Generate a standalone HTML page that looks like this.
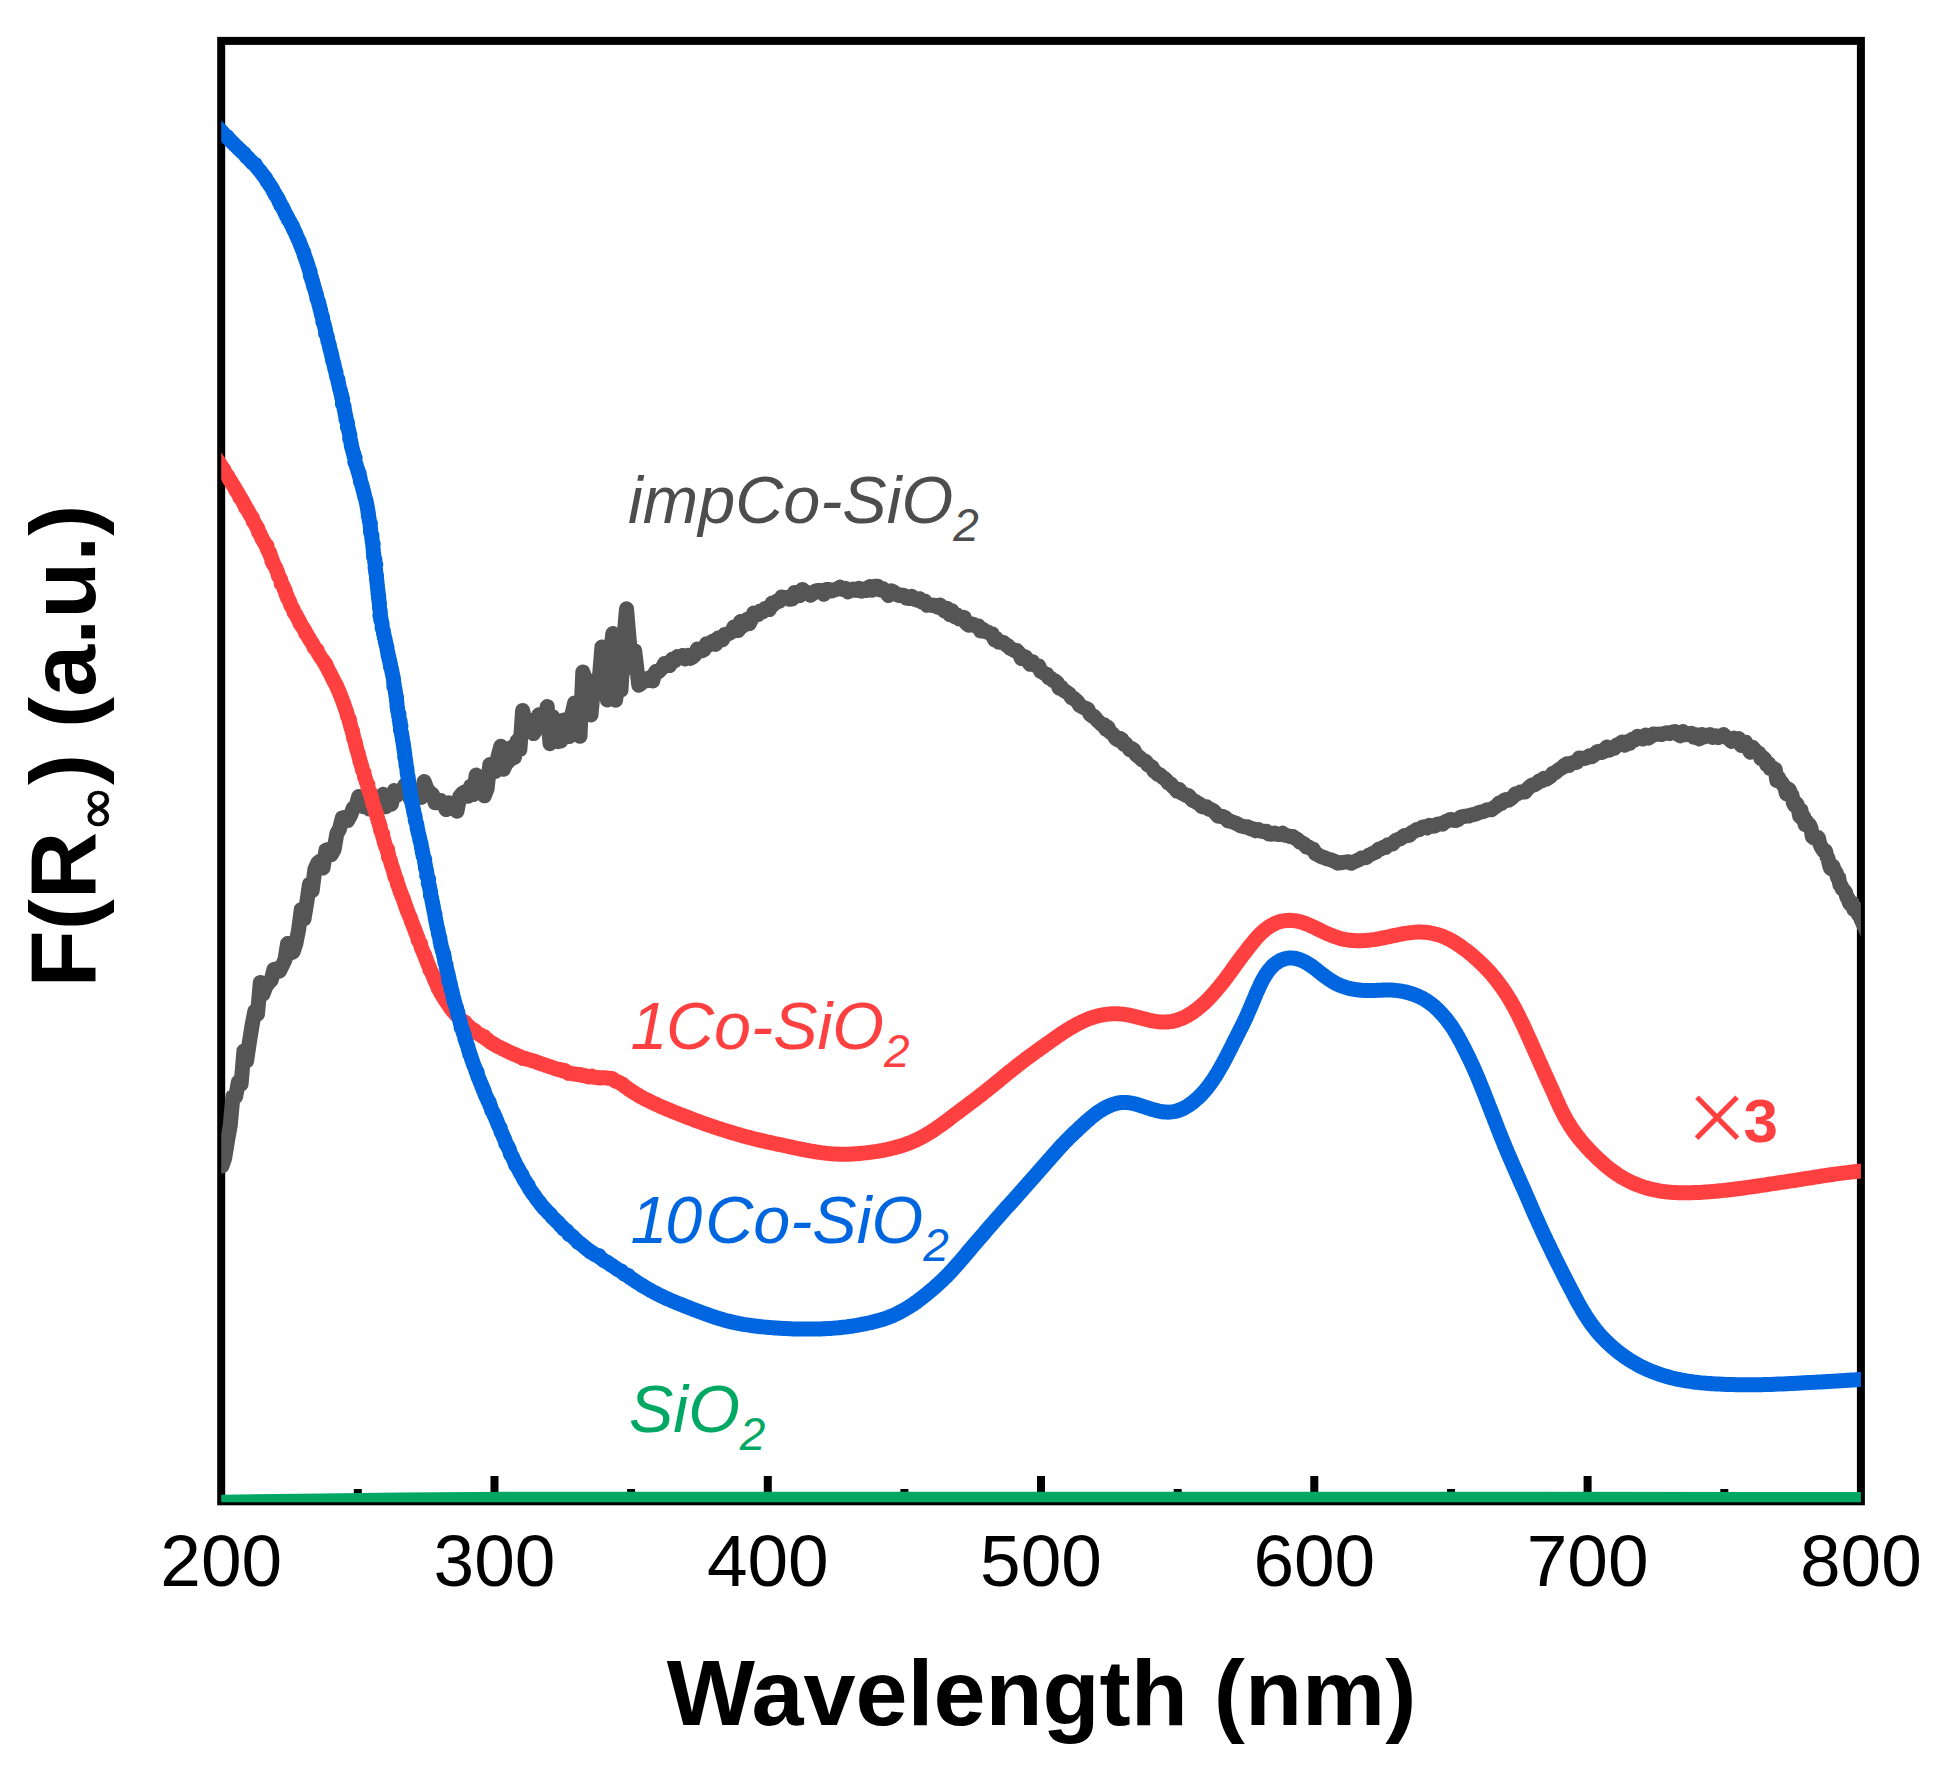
<!DOCTYPE html>
<html lang="en"><head><meta charset="utf-8"><title>F(R∞) vs Wavelength</title>
<style>html,body{margin:0;padding:0;background:#fff}svg{display:block}</style></head>
<body>
<svg width="1935" height="1779" viewBox="0 0 1935 1779">
<defs><clipPath id="c"><rect x="221.2" y="40.9" width="1639.7" height="1461.4"/></clipPath></defs>
<rect width="1935" height="1779" fill="#fff"/>
<rect x="221.2" y="40.9" width="1639.7" height="1460.4" fill="none" stroke="#000" stroke-width="8"/>
<path d="M494.5 1501.3V1476M767.8 1501.3V1476M1041.0 1501.3V1476M1314.3 1501.3V1476M1587.6 1501.3V1476M357.8 1501.3V1489M631.1 1501.3V1489M904.4 1501.3V1489M1177.7 1501.3V1489M1451.0 1501.3V1489M1724.3 1501.3V1489" stroke="#000" stroke-width="8" fill="none"/>
<g clip-path="url(#c)" fill="none" stroke-linejoin="round" stroke-linecap="butt" stroke-width="15">
<path d="M222.0 1166.0L224.7 1158.0L227.5 1140.9L230.2 1125.7L232.9 1096.8L235.7 1096.5L238.4 1081.8L241.1 1084.2L243.9 1051.0L246.6 1060.9L249.3 1042.6L252.1 1025.2L254.8 1011.1L257.5 1014.1L260.3 982.5L263.0 994.2L265.7 986.9L268.5 983.0L271.2 980.1L273.9 969.6L276.7 968.9L279.4 971.2L282.1 965.7L284.9 960.0L287.6 943.5L290.3 953.0L293.1 951.9L295.8 943.9L298.5 930.4L301.3 909.5L304.0 918.9L306.7 903.0L309.5 884.0L312.2 890.5L314.9 869.3L317.7 863.1L320.4 860.9L323.1 867.9L325.9 850.4L328.6 849.4L331.3 854.6L334.1 849.6L336.8 833.8L339.5 829.0L342.3 817.8L345.0 817.4L347.7 820.5L350.5 815.4L353.2 808.1L355.9 806.6L358.7 796.5L361.4 800.7L364.1 806.8L366.8 806.3L369.6 809.1L372.3 805.5L375.0 801.6L377.8 805.4L380.5 797.8L383.2 794.3L386.0 806.8L388.7 803.2L391.4 804.2L394.2 790.5L396.9 795.4L399.6 792.0L402.4 789.9L405.1 784.9L407.8 792.5L410.6 799.4L413.3 796.3L416.0 790.5L418.8 793.6L421.5 797.4L424.2 781.6L427.0 789.2L429.7 792.4L432.4 794.3L435.2 802.8L437.9 802.3L440.6 800.4L443.4 803.8L446.1 809.6L448.8 802.8L451.6 804.9L454.3 808.8L457.0 811.2L459.8 796.5L462.5 793.2L465.2 791.7L468.0 796.3L470.7 785.9L473.4 794.5L476.2 774.9L478.9 779.5L481.6 778.4L484.4 795.8L487.1 788.8L489.8 764.5L492.6 766.2L495.3 771.6L498.0 756.7L500.8 746.2L503.5 769.3L506.2 763.2L509.0 760.8L511.7 747.3L514.4 757.4L517.2 740.8L519.9 749.4L522.6 710.4L525.4 722.4L528.1 730.8L530.8 720.3L533.6 733.6L536.3 728.8L539.0 714.7L541.8 726.4L544.5 721.2L547.2 706.6L550.0 743.7L552.7 716.9L555.4 736.3L558.2 741.6L560.9 740.9L563.6 719.9L566.4 721.0L569.1 736.6L571.8 715.0L574.6 702.9L577.3 714.4L580.0 736.3L582.8 672.0L585.5 679.4L588.2 680.5L591.0 715.0L593.7 684.9L596.4 687.2L599.2 679.5L601.9 647.0L604.6 666.7L607.4 700.0L610.1 657.8L612.8 633.5L615.6 700.3L618.3 681.1L621.0 690.0L623.8 640.0L626.5 608.7L629.2 640.0L632.0 668.1L634.7 650.9L638.8 685.3L641.5 683.1L644.2 680.6L646.7 680.8L648.9 678.0L651.0 679.3L652.8 680.9L654.5 673.7L656.2 671.2L658.1 672.2L660.1 670.1L662.3 667.8L664.6 663.5L667.1 664.7L669.6 665.6L672.2 659.1L674.8 660.8L677.5 656.6L680.1 657.4L682.7 655.5L685.3 659.0L687.8 655.3L690.3 658.4L692.7 656.9L695.1 654.7L697.4 649.0L699.7 650.9L702.0 650.7L704.2 649.6L706.5 643.7L708.8 644.9L711.1 642.1L713.3 641.0L715.6 644.4L717.9 638.1L720.2 638.7L722.5 639.7L724.8 634.4L727.0 634.2L729.3 633.4L731.6 631.8L733.8 627.0L736.0 628.8L738.2 630.6L740.4 621.6L742.6 626.2L744.8 622.7L747.0 619.2L749.2 623.8L751.4 619.6L753.7 613.1L755.9 614.8L758.1 614.5L760.4 611.1L762.7 611.8L765.0 608.5L767.3 608.9L769.6 609.5L772.0 603.0L774.4 603.9L776.8 601.0L779.2 601.3L781.7 597.0L784.2 597.5L786.7 597.5L789.3 599.3L791.9 599.1L794.5 592.4L797.1 593.0L799.7 595.8L802.4 589.4L805.0 592.1L807.7 592.5L810.4 595.3L813.1 593.5L815.7 590.8L818.4 590.4L821.1 590.4L823.8 594.3L826.5 589.6L829.2 589.6L831.9 591.0L834.6 589.7L837.3 589.3L840.0 587.1L842.7 589.4L845.4 588.3L848.1 591.8L850.7 590.6L853.4 589.0L856.2 590.5L858.9 588.3L861.6 591.3L864.3 589.1L867.0 590.5L869.7 586.6L872.4 590.3L875.1 586.2L877.7 586.2L880.4 589.8L883.1 588.9L885.7 591.7L888.4 595.6L891.0 590.7L893.6 591.8L896.3 594.2L898.9 595.5L901.5 594.9L904.1 595.6L906.6 598.2L909.2 598.6L911.8 596.3L914.4 599.0L917.0 600.1L919.5 598.7L922.1 602.2L924.7 600.9L927.2 605.3L929.7 604.7L932.3 605.5L934.8 605.2L937.3 607.1L939.8 604.9L942.2 607.3L944.7 611.3L947.1 608.3L949.6 614.5L952.0 610.8L954.4 616.6L956.9 614.9L959.3 619.1L961.7 619.1L964.1 617.3L966.5 623.6L968.9 625.2L971.3 623.7L973.7 624.6L976.0 626.1L978.4 626.0L980.7 631.0L983.1 629.5L985.4 631.7L987.7 631.9L989.9 633.6L992.2 634.0L994.5 639.8L996.7 638.9L999.0 642.3L1001.2 642.2L1003.4 642.5L1005.7 644.7L1007.9 645.8L1010.1 648.3L1012.4 649.2L1014.6 650.8L1016.8 650.5L1019.1 653.0L1021.3 658.5L1023.5 656.3L1025.7 657.2L1027.9 661.0L1030.1 664.3L1032.3 661.4L1034.4 665.0L1036.6 666.0L1038.7 665.9L1040.8 671.5L1042.8 672.1L1044.9 673.9L1047.0 674.4L1049.0 678.0L1051.1 678.3L1053.1 680.7L1055.1 681.0L1057.2 682.6L1059.2 688.2L1061.3 687.2L1063.3 690.1L1065.4 691.4L1067.4 692.6L1069.5 694.2L1071.5 697.6L1073.6 698.1L1075.6 700.0L1077.7 702.0L1079.7 705.4L1081.8 706.5L1083.8 707.8L1085.8 708.3L1087.8 709.0L1089.8 714.0L1091.9 715.8L1093.9 716.1L1095.9 718.8L1097.9 721.0L1099.9 722.8L1101.9 724.8L1103.9 724.7L1105.9 729.2L1107.9 727.3L1109.9 731.9L1111.9 733.2L1113.9 735.5L1115.9 738.5L1117.9 739.9L1119.9 738.4L1121.9 739.5L1123.9 744.4L1125.9 744.0L1128.0 747.0L1130.0 749.9L1132.0 748.6L1134.0 750.3L1136.0 754.6L1138.0 756.2L1139.9 757.6L1141.9 759.8L1143.9 760.5L1145.9 761.6L1147.9 765.0L1149.9 765.9L1152.0 766.9L1154.0 771.2L1156.0 772.3L1158.0 774.6L1160.1 774.8L1162.1 776.9L1164.2 778.3L1166.3 780.1L1168.4 783.0L1170.5 783.6L1172.7 786.5L1174.8 788.1L1177.0 791.2L1179.2 789.4L1181.5 793.3L1183.7 793.8L1185.9 795.4L1188.2 795.4L1190.5 797.9L1192.7 800.6L1195.0 801.2L1197.3 802.8L1199.6 803.9L1201.8 806.8L1204.1 807.0L1206.5 806.7L1208.8 809.2L1211.1 809.5L1213.5 810.8L1215.8 813.3L1218.2 816.3L1220.6 816.4L1223.0 816.5L1225.5 817.9L1227.9 820.9L1230.4 821.1L1232.9 822.1L1235.3 823.0L1237.9 824.1L1240.4 825.7L1242.9 826.4L1245.5 827.0L1248.0 826.8L1250.6 828.9L1253.2 828.7L1255.8 830.8L1258.4 829.6L1261.0 831.1L1263.7 831.7L1266.4 831.2L1269.1 834.1L1271.8 834.2L1274.5 833.0L1277.2 834.4L1279.9 834.5L1282.6 833.2L1285.3 835.4L1287.9 835.7L1290.4 836.6L1292.9 836.6L1295.3 838.3L1297.6 839.6L1299.9 842.1L1302.2 842.9L1304.4 844.2L1306.6 847.1L1308.8 847.0L1311.0 848.8L1313.2 849.2L1315.4 853.6L1317.7 854.6L1320.0 856.0L1322.4 857.1L1324.8 857.8L1327.3 859.0L1329.8 859.5L1332.4 860.4L1335.0 861.4L1337.6 863.2L1340.3 862.8L1343.0 862.5L1345.7 862.0L1348.4 861.8L1351.1 863.3L1353.8 861.9L1356.4 860.8L1359.0 859.6L1361.5 858.0L1364.0 857.8L1366.4 857.5L1368.9 855.2L1371.3 854.2L1373.7 852.9L1376.1 852.0L1378.5 849.3L1380.8 849.1L1383.2 847.3L1385.5 847.5L1387.9 844.7L1390.3 844.5L1392.6 844.0L1395.0 841.1L1397.3 839.6L1399.7 838.9L1402.1 837.5L1404.5 835.4L1406.9 835.4L1409.3 835.4L1411.8 832.4L1414.2 831.4L1416.7 829.6L1419.2 829.8L1421.7 827.5L1424.3 826.8L1426.9 828.0L1429.5 825.3L1432.1 826.3L1434.7 826.0L1437.3 824.2L1439.9 823.8L1442.5 824.2L1445.1 821.8L1447.8 820.8L1450.4 819.4L1453.0 820.0L1455.6 820.6L1458.2 819.5L1460.8 817.1L1463.4 816.5L1466.0 816.1L1468.6 816.1L1471.3 814.9L1473.9 814.5L1476.4 813.8L1479.0 812.5L1481.6 811.9L1484.2 811.2L1486.7 810.0L1489.2 809.6L1491.7 809.7L1494.2 807.5L1496.6 805.9L1499.0 803.1L1501.4 803.7L1503.8 800.4L1506.1 799.5L1508.5 800.3L1510.8 798.8L1513.2 796.6L1515.5 793.7L1517.9 793.7L1520.2 792.1L1522.6 792.1L1525.0 792.0L1527.3 789.1L1529.7 786.8L1532.1 785.0L1534.4 784.9L1536.8 783.4L1539.1 781.0L1541.5 781.1L1543.8 778.3L1546.1 779.3L1548.4 777.9L1550.6 776.4L1552.9 773.2L1555.2 772.9L1557.5 770.7L1559.8 769.0L1562.2 767.7L1564.5 765.3L1566.9 763.8L1569.3 765.3L1571.7 763.0L1574.2 762.4L1576.7 762.4L1579.2 758.0L1581.7 758.2L1584.3 758.5L1586.8 757.8L1589.4 755.9L1591.9 756.8L1594.4 754.7L1596.9 751.8L1599.4 751.2L1601.9 752.5L1604.4 751.1L1606.9 746.9L1609.4 750.3L1611.9 748.2L1614.4 748.3L1617.0 744.8L1619.5 744.0L1622.0 741.9L1624.6 745.3L1627.2 741.5L1629.7 743.4L1632.3 739.2L1634.9 739.7L1637.5 736.2L1640.2 737.5L1642.8 739.1L1645.4 735.0L1648.1 738.2L1650.8 736.6L1653.4 733.9L1656.1 734.4L1658.8 734.1L1661.5 734.5L1664.2 733.4L1666.9 732.7L1669.6 733.5L1672.3 732.1L1675.0 731.6L1677.7 734.0L1680.4 735.9L1683.0 731.6L1685.7 734.7L1688.4 733.7L1691.1 733.3L1693.8 737.2L1696.5 734.7L1699.2 739.0L1701.9 734.4L1704.6 736.9L1707.4 735.6L1710.1 734.5L1712.8 737.4L1715.5 735.8L1718.2 737.7L1720.9 736.5L1723.5 734.5L1726.1 737.3L1728.7 738.4L1731.3 741.4L1733.8 738.1L1736.2 741.3L1738.7 738.5L1741.1 745.4L1743.4 742.6L1745.7 742.2L1748.0 747.9L1750.3 752.2L1752.5 747.3L1754.7 749.9L1756.9 752.4L1759.0 753.1L1761.0 758.6L1763.0 757.5L1764.9 759.6L1766.7 764.8L1768.5 763.5L1770.2 768.6L1771.9 767.2L1773.6 768.7L1775.2 769.4L1776.8 780.6L1778.5 777.5L1780.1 781.0L1781.7 782.5L1783.3 785.2L1784.8 787.1L1786.4 793.8L1787.8 788.8L1789.3 789.8L1790.6 793.5L1792.0 795.0L1793.3 802.7L1794.6 805.3L1795.9 803.0L1797.1 804.3L1798.4 809.4L1799.7 816.3L1801.0 810.3L1802.4 818.7L1803.7 816.9L1805.1 824.7L1806.6 821.5L1808.0 825.8L1809.5 824.9L1811.0 828.5L1812.4 837.0L1813.9 837.8L1815.4 836.8L1816.9 837.8L1818.3 837.6L1819.8 843.7L1821.2 846.9L1822.6 849.1L1824.0 851.3L1825.4 850.9L1826.7 856.1L1828.0 858.5L1829.3 864.5L1830.5 868.3L1831.8 865.4L1833.0 866.2L1834.1 870.5L1835.3 871.4L1836.5 873.5L1837.6 877.8L1838.7 877.6L1839.8 884.6L1840.9 885.1L1842.1 888.6L1843.2 889.8L1844.4 890.8L1845.6 892.6L1846.8 896.9L1848.1 898.5L1849.4 903.0L1850.8 904.6L1852.2 903.1L1853.7 909.3L1855.3 907.6L1856.9 911.8L1858.5 914.9L1860.1 912.8L1861.0 919.0L1873.0 945.0" stroke="#555555" stroke-linecap="round"/>
<path d="M209.2 447.8L221.2 466.0L222.3 467.7L223.8 469.4L224.4 471.1L225.0 472.5L226.5 474.5L227.6 475.8L228.6 477.9L229.6 479.6L230.7 481.3L232.0 483.3L232.8 484.7L234.0 486.6L234.9 488.1L235.7 490.0L236.9 491.5L238.0 493.4L239.0 495.0L239.8 497.6L241.0 498.5L242.1 500.3L243.0 501.9L243.9 504.0L245.0 505.4L245.7 507.8L246.9 508.9L247.9 510.7L248.8 512.4L249.9 514.2L250.8 515.9L252.5 518.0L252.7 519.4L253.4 521.8L254.5 523.0L255.6 524.8L256.4 526.5L257.8 528.4L258.2 530.1L258.4 531.9L260.0 533.6L260.3 535.0L261.7 537.2L262.2 539.4L263.5 540.8L264.3 542.5L265.2 544.4L266.9 545.6L266.9 548.1L267.9 549.8L268.6 551.7L269.8 552.9L270.2 555.3L271.0 556.8L271.8 559.0L271.8 560.9L273.4 562.7L273.4 564.2L275.0 566.4L276.1 568.6L276.5 570.1L277.3 571.4L278.0 573.8L278.3 575.7L279.5 577.5L280.6 579.6L281.0 581.2L281.2 583.6L282.5 584.9L283.6 587.1L284.0 588.6L285.3 590.6L285.5 592.3L286.0 594.2L287.1 596.0L287.4 597.8L288.6 599.7L289.7 601.9L290.2 603.4L290.6 605.0L291.8 607.0L293.0 609.0L293.6 610.6L294.1 612.3L295.4 614.1L296.6 616.0L297.3 617.6L298.3 619.3L299.3 621.1L300.1 623.6L301.2 624.6L301.9 626.1L303.3 628.1L304.4 629.9L305.3 631.6L305.6 633.4L307.3 635.0L308.2 637.0L309.3 638.5L310.2 640.4L311.3 641.9L312.6 643.8L313.4 645.4L314.0 647.4L315.5 648.8L317.1 650.0L317.6 652.2L318.6 653.9L319.7 655.6L320.4 656.9L321.9 659.0L323.4 660.8L324.0 662.4L325.6 663.7L326.0 665.8L327.0 667.2L328.0 669.3L328.7 671.0L329.9 672.8L330.9 675.1L331.7 676.3L332.4 678.3L333.5 679.9L334.2 681.8L335.2 683.5L336.6 685.9L336.9 687.2L337.8 688.7L338.5 690.8L339.3 692.0L340.1 694.5L340.9 696.2L341.6 698.2L342.3 700.0L343.0 702.0L344.0 704.3L344.3 705.7L345.3 708.4L345.7 709.5L346.2 710.9L346.9 713.3L347.5 716.1L348.1 717.1L349.5 719.6L349.2 721.0L350.0 723.2L350.4 724.8L350.8 726.9L351.4 728.7L352.7 731.4L352.5 732.5L353.0 734.5L353.5 736.4L353.6 738.2L354.5 740.2L355.3 742.2L355.6 744.1L355.8 745.6L356.6 748.0L356.9 750.1L357.6 751.9L358.3 753.7L358.7 755.7L359.2 757.8L359.8 759.6L360.0 761.6L360.9 763.4L361.2 765.0L362.0 767.3L362.3 769.6L363.1 771.1L364.1 772.7L364.3 774.9L364.6 777.2L365.4 778.8L365.8 780.1L366.6 782.6L367.9 784.6L367.7 786.4L368.1 788.0L368.9 790.2L370.0 792.2L370.1 794.1L371.1 795.8L371.2 797.9L371.8 799.0L372.4 801.7L372.5 803.3L373.5 805.6L374.3 807.5L374.7 809.4L375.5 811.5L375.8 813.2L376.8 814.6L377.0 817.0L377.6 818.2L378.1 820.9L379.1 822.5L379.3 824.7L380.3 826.6L380.4 828.5L380.6 830.2L381.6 832.4L382.7 834.0L382.7 836.2L383.4 838.4L383.9 840.0L384.3 842.3L385.0 843.9L385.5 846.0L386.2 847.7L387.5 849.3L387.4 851.5L388.3 853.5L388.6 855.3L388.5 857.2L389.8 859.2L390.4 860.6L390.9 863.0L391.5 865.2L392.2 866.8L392.7 868.7L393.4 870.6L393.8 872.3L394.6 874.4L394.7 876.8L395.9 878.2L396.8 880.4L397.1 882.0L397.5 884.2L398.4 885.8L399.0 888.1L399.7 889.6L400.2 891.7L401.1 893.3L401.5 894.8L402.4 897.1L403.4 898.8L403.8 900.8L404.6 903.1L405.2 904.6L405.6 906.2L406.6 908.3L407.0 910.2L408.0 912.1L408.6 914.1L409.4 915.8L410.5 918.2L410.9 919.5L411.6 921.9L412.3 923.3L413.1 925.5L413.7 927.0L414.4 928.8L415.2 930.8L415.8 933.0L416.6 934.5L417.4 936.6L418.0 938.2L418.1 940.1L419.4 942.0L420.7 944.3L420.8 945.7L421.3 947.8L422.2 949.5L422.8 951.1L423.7 953.2L424.9 955.5L425.1 956.9L426.0 958.7L426.6 960.6L427.4 962.7L428.1 964.3L428.7 965.7L429.7 968.0L429.9 969.9L431.2 971.7L432.0 973.3L432.8 975.5L434.0 977.0L434.3 979.2L434.8 980.3L436.0 982.8L437.3 985.4L437.7 986.5L438.1 988.2L439.4 990.1L440.1 991.9L441.3 993.6L442.5 995.7L443.3 997.0L444.3 998.7L445.4 1000.4L446.7 1002.2L447.6 1003.7L448.5 1004.8L449.9 1006.9L450.8 1008.5L452.4 1010.0L453.0 1011.3L455.0 1013.0L455.9 1014.6L457.6 1015.9L458.6 1017.4L460.4 1018.8L461.3 1019.7L463.3 1021.5L464.9 1022.2L466.2 1024.2L467.5 1025.2L469.3 1026.8L470.2 1028.3L472.5 1029.3L474.9 1030.7L475.7 1031.7L477.0 1033.1L478.9 1034.1L480.1 1034.6L482.2 1036.5L484.3 1036.7L485.5 1038.7L487.5 1039.6L488.8 1040.9L490.1 1041.9L492.2 1043.1L493.4 1043.9L495.6 1045.1L497.0 1046.2L499.1 1047.1L501.2 1047.9L502.6 1048.9L504.3 1049.4L506.2 1050.7L507.7 1051.2L509.8 1052.4L511.6 1053.2L513.5 1054.0L515.8 1054.7L517.2 1055.5L518.6 1056.2L521.0 1056.9L522.7 1058.4L524.7 1058.2L526.1 1058.8L528.5 1059.6L531.2 1060.2L532.3 1060.8L534.8 1061.1L536.1 1062.1L538.3 1062.6L539.9 1063.3L541.8 1064.1L543.7 1064.6L545.8 1065.4L547.5 1065.8L548.7 1066.4L551.3 1067.1L553.3 1067.9L555.1 1068.4L556.6 1069.1L558.9 1069.7L560.4 1069.6L562.8 1070.9L564.4 1070.3L566.6 1072.0L568.4 1073.4L570.5 1073.1L572.6 1073.8L574.4 1073.9L576.6 1074.3L578.3 1074.7L580.3 1074.4L582.2 1075.4L583.8 1075.3L586.1 1076.1L588.3 1076.9L590.0 1076.8L591.9 1076.1L593.9 1077.3L596.3 1077.4L597.9 1077.7L599.6 1078.1L601.9 1077.8L602.9 1077.8L605.8 1077.8L607.6 1078.2L609.7 1078.2L612.3 1078.7L613.4 1079.4L615.4 1081.2L617.0 1081.4L618.7 1082.1L620.6 1083.5L622.6 1084.1L624.0 1085.7L625.8 1086.9L627.3 1088.0L629.1 1089.6L630.5 1090.3L632.0 1091.4L633.9 1092.5L635.6 1093.6L637.3 1094.6L639.0 1095.7L640.7 1096.7L642.5 1097.6L644.2 1098.6L646.0 1099.5L647.8 1100.4L649.6 1101.2L651.4 1102.1L653.2 1103.0L655.0 1103.8L656.8 1104.7L658.6 1105.5L660.4 1106.3L662.3 1107.1L664.1 1107.9L665.9 1108.7L667.8 1109.5L669.6 1110.2L671.5 1111.0L673.3 1111.8L675.2 1112.5L677.1 1113.2L678.9 1114.0L680.8 1114.7L682.7 1115.4L684.5 1116.2L686.4 1116.9L688.3 1117.6L690.1 1118.3L692.0 1119.0L693.9 1119.7L695.7 1120.4L697.6 1121.1L699.5 1121.8L701.4 1122.5L703.3 1123.2L705.1 1123.9L707.0 1124.5L708.9 1125.2L710.8 1125.8L712.7 1126.5L714.6 1127.1L716.5 1127.8L718.4 1128.4L720.3 1129.0L722.2 1129.6L724.1 1130.2L726.0 1130.8L727.9 1131.4L729.8 1132.0L731.7 1132.6L733.7 1133.1L735.6 1133.7L737.5 1134.3L739.4 1134.8L741.4 1135.4L743.3 1135.9L745.2 1136.4L747.1 1136.9L749.1 1137.4L751.0 1138.0L752.9 1138.5L754.9 1138.9L756.8 1139.4L758.8 1139.9L760.7 1140.4L762.7 1140.8L764.6 1141.3L766.5 1141.8L768.5 1142.2L770.5 1142.6L772.4 1143.1L774.4 1143.5L776.3 1143.9L778.3 1144.3L780.2 1144.7L782.2 1145.1L784.2 1145.5L786.1 1146.0L788.1 1146.4L790.0 1146.8L792.0 1147.2L793.9 1147.7L795.9 1148.1L797.9 1148.5L799.8 1148.9L801.8 1149.3L803.7 1149.7L805.7 1150.1L807.7 1150.4L809.6 1150.8L811.6 1151.1L813.6 1151.5L815.5 1151.8L817.5 1152.1L819.5 1152.4L821.5 1152.7L823.4 1152.9L825.4 1153.2L827.4 1153.4L829.4 1153.6L831.4 1153.8L833.4 1153.9L835.3 1154.0L837.3 1154.1L839.3 1154.2L841.3 1154.3L843.3 1154.3L845.3 1154.3L847.3 1154.2L849.3 1154.2L851.3 1154.1L853.3 1154.0L855.3 1153.8L857.3 1153.7L859.3 1153.5L861.3 1153.3L863.3 1153.1L865.3 1152.9L867.3 1152.7L869.3 1152.4L871.3 1152.2L873.2 1151.9L875.2 1151.6L877.2 1151.3L879.2 1151.0L881.2 1150.6L883.1 1150.3L885.1 1149.9L887.1 1149.5L889.0 1149.0L891.0 1148.6L892.9 1148.1L894.9 1147.6L896.8 1147.1L898.7 1146.6L900.7 1146.0L902.6 1145.4L904.4 1144.8L906.3 1144.1L908.2 1143.4L910.0 1142.7L911.9 1142.0L913.7 1141.2L915.5 1140.3L917.3 1139.5L919.1 1138.6L920.9 1137.7L922.6 1136.8L924.4 1135.8L926.1 1134.8L927.8 1133.8L929.5 1132.7L931.2 1131.7L932.9 1130.6L934.6 1129.5L936.2 1128.4L937.9 1127.2L939.5 1126.1L941.2 1124.9L942.8 1123.7L944.4 1122.6L946.0 1121.4L947.6 1120.2L949.2 1119.0L950.8 1117.8L952.4 1116.5L954.0 1115.3L955.6 1114.1L957.2 1112.9L958.8 1111.7L960.4 1110.5L962.0 1109.3L963.6 1108.1L965.2 1106.9L966.8 1105.7L968.4 1104.5L970.0 1103.3L971.6 1102.1L973.2 1100.9L974.8 1099.7L976.4 1098.5L978.0 1097.2L979.6 1096.0L981.2 1094.8L982.7 1093.6L984.3 1092.3L985.9 1091.1L987.4 1089.8L989.0 1088.6L990.6 1087.3L992.1 1086.1L993.7 1084.8L995.2 1083.5L996.8 1082.3L998.3 1081.0L999.9 1079.7L1001.4 1078.5L1002.9 1077.2L1004.5 1075.9L1006.0 1074.7L1007.6 1073.4L1009.1 1072.2L1010.7 1070.9L1012.3 1069.7L1013.8 1068.4L1015.4 1067.2L1017.0 1065.9L1018.5 1064.7L1020.1 1063.5L1021.7 1062.3L1023.3 1061.0L1024.9 1059.8L1026.5 1058.6L1028.1 1057.4L1029.7 1056.2L1031.3 1055.1L1032.9 1053.9L1034.5 1052.7L1036.1 1051.5L1037.8 1050.4L1039.4 1049.2L1041.0 1048.0L1042.7 1046.9L1044.3 1045.7L1045.9 1044.5L1047.6 1043.4L1049.2 1042.2L1050.8 1041.1L1052.5 1039.9L1054.1 1038.7L1055.8 1037.6L1057.4 1036.4L1059.1 1035.3L1060.7 1034.2L1062.4 1033.0L1064.1 1031.9L1065.8 1030.9L1067.5 1029.8L1069.2 1028.7L1070.9 1027.7L1072.6 1026.7L1074.4 1025.7L1076.1 1024.7L1077.9 1023.8L1079.7 1022.9L1081.5 1022.0L1083.3 1021.1L1085.2 1020.3L1087.0 1019.5L1088.9 1018.8L1090.7 1018.1L1092.6 1017.5L1094.5 1016.9L1096.4 1016.3L1098.4 1015.8L1100.3 1015.4L1102.2 1015.0L1104.2 1014.7L1106.1 1014.4L1108.1 1014.1L1110.1 1013.9L1112.1 1013.8L1114.0 1013.7L1116.0 1013.7L1118.0 1013.8L1120.0 1013.9L1122.0 1014.1L1124.0 1014.3L1126.0 1014.6L1127.9 1014.9L1129.9 1015.3L1131.9 1015.8L1133.9 1016.2L1135.8 1016.7L1137.8 1017.2L1139.8 1017.8L1141.7 1018.3L1143.7 1018.8L1145.7 1019.3L1147.6 1019.8L1149.6 1020.3L1151.5 1020.7L1153.5 1021.1L1155.5 1021.4L1157.4 1021.7L1159.4 1021.9L1161.3 1022.0L1163.2 1022.1L1165.2 1022.1L1167.1 1022.0L1168.9 1021.8L1170.8 1021.6L1172.7 1021.3L1174.5 1020.8L1176.4 1020.4L1178.2 1019.8L1180.0 1019.1L1181.9 1018.4L1183.6 1017.6L1185.4 1016.7L1187.2 1015.8L1188.9 1014.8L1190.7 1013.7L1192.4 1012.6L1194.0 1011.4L1195.7 1010.2L1197.3 1009.0L1198.9 1007.7L1200.4 1006.4L1202.0 1005.1L1203.5 1003.7L1204.9 1002.4L1206.4 1001.0L1207.8 999.6L1209.2 998.1L1210.6 996.7L1212.0 995.2L1213.3 993.7L1214.6 992.3L1215.9 990.8L1217.2 989.2L1218.5 987.7L1219.8 986.2L1221.0 984.6L1222.3 983.0L1223.5 981.5L1224.7 979.9L1225.9 978.3L1227.1 976.7L1228.3 975.1L1229.5 973.5L1230.7 971.8L1231.8 970.2L1233.0 968.6L1234.2 966.9L1235.3 965.3L1236.5 963.7L1237.7 962.1L1238.9 960.4L1240.1 958.8L1241.3 957.2L1242.5 955.6L1243.7 954.0L1245.0 952.4L1246.2 950.8L1247.4 949.2L1248.7 947.6L1249.9 946.0L1251.2 944.4L1252.5 942.8L1253.8 941.3L1255.1 939.7L1256.4 938.2L1257.8 936.7L1259.2 935.2L1260.6 933.7L1262.1 932.3L1263.6 931.0L1265.1 929.7L1266.7 928.5L1268.3 927.4L1269.9 926.3L1271.6 925.3L1273.3 924.4L1275.0 923.5L1276.8 922.8L1278.6 922.1L1280.4 921.6L1282.2 921.1L1284.1 920.8L1286.0 920.5L1287.8 920.4L1289.7 920.3L1291.6 920.4L1293.6 920.6L1295.5 920.8L1297.4 921.2L1299.3 921.6L1301.2 922.1L1303.1 922.7L1305.0 923.4L1306.9 924.1L1308.8 924.9L1310.6 925.7L1312.5 926.6L1314.4 927.4L1316.2 928.3L1318.0 929.2L1319.9 930.1L1321.7 931.0L1323.5 931.9L1325.4 932.8L1327.2 933.6L1329.1 934.4L1330.9 935.2L1332.8 935.9L1334.6 936.6L1336.5 937.2L1338.4 937.8L1340.3 938.4L1342.2 938.9L1344.1 939.3L1346.0 939.7L1348.0 940.0L1349.9 940.3L1351.9 940.5L1353.9 940.6L1355.8 940.7L1357.8 940.8L1359.8 940.7L1361.8 940.7L1363.8 940.6L1365.8 940.5L1367.8 940.3L1369.8 940.1L1371.7 939.8L1373.7 939.6L1375.7 939.3L1377.7 938.9L1379.7 938.6L1381.7 938.2L1383.6 937.8L1385.6 937.4L1387.6 937.0L1389.6 936.6L1391.5 936.1L1393.5 935.7L1395.5 935.3L1397.5 934.9L1399.5 934.5L1401.4 934.1L1403.4 933.7L1405.4 933.4L1407.4 933.1L1409.4 932.8L1411.4 932.6L1413.4 932.4L1415.4 932.2L1417.4 932.1L1419.3 932.1L1421.3 932.1L1423.3 932.2L1425.2 932.3L1427.2 932.5L1429.1 932.7L1431.1 933.1L1433.0 933.4L1434.9 933.9L1436.8 934.4L1438.7 934.9L1440.5 935.5L1442.4 936.2L1444.2 937.0L1446.0 937.8L1447.8 938.6L1449.6 939.5L1451.4 940.5L1453.1 941.5L1454.9 942.5L1456.6 943.6L1458.3 944.7L1459.9 945.8L1461.6 947.0L1463.2 948.2L1464.8 949.4L1466.4 950.6L1468.0 951.8L1469.6 953.1L1471.2 954.4L1472.7 955.7L1474.2 957.0L1475.7 958.3L1477.2 959.7L1478.7 961.0L1480.2 962.4L1481.6 963.8L1483.1 965.2L1484.5 966.6L1485.9 968.0L1487.2 969.5L1488.6 970.9L1489.9 972.4L1491.3 973.9L1492.6 975.4L1493.9 977.0L1495.1 978.5L1496.4 980.1L1497.6 981.7L1498.8 983.3L1500.0 984.9L1501.2 986.5L1502.3 988.1L1503.5 989.8L1504.6 991.4L1505.7 993.1L1506.8 994.8L1507.9 996.5L1508.9 998.2L1510.0 999.9L1511.0 1001.6L1512.0 1003.3L1512.9 1005.1L1513.9 1006.8L1514.9 1008.6L1515.8 1010.3L1516.7 1012.1L1517.7 1013.9L1518.6 1015.7L1519.4 1017.5L1520.3 1019.3L1521.2 1021.1L1522.1 1022.9L1522.9 1024.7L1523.8 1026.5L1524.6 1028.3L1525.4 1030.1L1526.3 1032.0L1527.1 1033.8L1527.9 1035.6L1528.7 1037.4L1529.6 1039.3L1530.4 1041.1L1531.2 1042.9L1532.0 1044.7L1532.8 1046.6L1533.6 1048.4L1534.4 1050.2L1535.2 1052.1L1536.1 1053.9L1536.9 1055.7L1537.7 1057.5L1538.5 1059.4L1539.3 1061.2L1540.1 1063.0L1540.9 1064.8L1541.8 1066.7L1542.6 1068.5L1543.4 1070.3L1544.2 1072.1L1545.0 1074.0L1545.9 1075.8L1546.7 1077.6L1547.5 1079.4L1548.3 1081.3L1549.2 1083.1L1550.0 1084.9L1550.8 1086.7L1551.6 1088.5L1552.5 1090.4L1553.3 1092.2L1554.1 1094.0L1554.9 1095.9L1555.7 1097.7L1556.5 1099.6L1557.3 1101.4L1558.2 1103.2L1559.0 1105.1L1559.8 1106.9L1560.7 1108.7L1561.6 1110.5L1562.5 1112.3L1563.4 1114.1L1564.3 1115.8L1565.3 1117.6L1566.2 1119.3L1567.2 1121.0L1568.3 1122.7L1569.3 1124.4L1570.3 1126.1L1571.4 1127.8L1572.5 1129.4L1573.7 1131.1L1574.8 1132.7L1576.0 1134.3L1577.2 1135.9L1578.4 1137.5L1579.6 1139.0L1580.9 1140.6L1582.2 1142.1L1583.5 1143.6L1584.8 1145.1L1586.1 1146.6L1587.5 1148.1L1588.9 1149.5L1590.2 1151.0L1591.6 1152.4L1593.0 1153.8L1594.5 1155.3L1595.9 1156.7L1597.4 1158.1L1598.8 1159.4L1600.3 1160.8L1601.8 1162.2L1603.3 1163.5L1604.8 1164.8L1606.3 1166.1L1607.8 1167.4L1609.4 1168.6L1610.9 1169.8L1612.5 1171.0L1614.2 1172.2L1615.8 1173.3L1617.5 1174.5L1619.1 1175.5L1620.8 1176.6L1622.6 1177.6L1624.3 1178.6L1626.0 1179.6L1627.8 1180.5L1629.6 1181.4L1631.4 1182.3L1633.2 1183.1L1635.0 1183.9L1636.9 1184.6L1638.8 1185.4L1640.6 1186.0L1642.5 1186.7L1644.4 1187.3L1646.3 1187.9L1648.3 1188.4L1650.2 1188.9L1652.1 1189.4L1654.1 1189.8L1656.0 1190.2L1658.0 1190.6L1660.0 1191.0L1661.9 1191.3L1663.9 1191.6L1665.9 1191.8L1667.9 1192.0L1669.9 1192.2L1671.9 1192.4L1673.9 1192.5L1675.9 1192.6L1677.9 1192.7L1679.9 1192.7L1681.9 1192.8L1683.9 1192.8L1685.9 1192.8L1687.9 1192.8L1689.9 1192.7L1691.9 1192.7L1693.9 1192.6L1695.9 1192.5L1697.9 1192.5L1699.9 1192.4L1701.9 1192.3L1703.9 1192.1L1705.9 1192.0L1707.9 1191.9L1709.9 1191.7L1711.9 1191.6L1713.9 1191.4L1715.9 1191.2L1717.9 1191.0L1719.9 1190.8L1721.8 1190.6L1723.8 1190.4L1725.8 1190.2L1727.8 1190.0L1729.8 1189.8L1731.8 1189.5L1733.8 1189.3L1735.7 1189.0L1737.7 1188.8L1739.7 1188.5L1741.7 1188.2L1743.7 1188.0L1745.7 1187.7L1747.6 1187.4L1749.6 1187.1L1751.6 1186.8L1753.6 1186.5L1755.6 1186.2L1757.5 1186.0L1759.5 1185.7L1761.5 1185.4L1763.5 1185.1L1765.5 1184.8L1767.4 1184.5L1769.4 1184.2L1771.4 1183.9L1773.4 1183.6L1775.3 1183.3L1777.3 1183.0L1779.3 1182.7L1781.3 1182.4L1783.3 1182.1L1785.2 1181.8L1787.2 1181.5L1789.2 1181.2L1791.2 1180.9L1793.1 1180.6L1795.1 1180.3L1797.1 1180.0L1799.1 1179.7L1801.0 1179.3L1803.0 1179.0L1805.0 1178.7L1807.0 1178.4L1808.9 1178.1L1810.9 1177.8L1812.9 1177.5L1814.9 1177.2L1816.9 1176.9L1818.8 1176.6L1820.8 1176.2L1822.8 1175.9L1824.8 1175.6L1826.7 1175.3L1828.7 1175.0L1830.7 1174.8L1832.7 1174.5L1834.7 1174.2L1836.6 1173.9L1838.6 1173.6L1840.6 1173.4L1842.6 1173.1L1844.5 1172.9L1846.5 1172.6L1848.5 1172.4L1850.5 1172.1L1852.5 1171.9L1854.4 1171.7L1856.4 1171.5L1858.4 1171.3L1860.4 1171.1L1861.4 1171.0L1873.4 1169.8" stroke="#ff4040"/>
<path d="M209.4 119.3L221.4 131.3L222.8 132.7L224.6 135.2L225.5 135.6L227.3 136.7L228.3 138.4L229.5 139.5L231.1 141.2L232.5 142.6L234.0 144.0L235.3 145.4L236.9 146.8L238.5 148.5L239.7 149.6L241.2 151.1L242.6 152.4L244.3 153.6L245.5 155.3L246.2 156.7L248.3 158.1L250.2 160.5L251.1 161.0L252.4 162.9L253.8 163.9L255.4 164.4L256.5 166.9L257.7 168.4L259.0 169.9L260.2 171.2L261.5 173.0L262.9 174.8L263.9 176.2L265.4 177.8L266.2 179.5L267.3 181.8L268.5 182.8L269.5 184.7L270.6 186.1L271.9 188.1L272.7 189.5L273.4 191.3L274.7 193.0L275.2 194.7L276.7 196.5L277.8 198.3L278.6 200.0L279.3 202.2L280.5 203.5L280.8 205.5L282.4 207.1L283.0 208.8L284.2 210.7L285.0 212.9L286.0 214.2L286.5 216.1L287.9 217.8L288.3 219.6L289.7 221.4L290.6 222.9L291.5 225.0L292.7 226.6L293.2 228.6L294.0 230.2L295.0 232.2L295.5 233.0L296.6 235.8L297.6 238.0L298.3 239.5L299.3 241.5L299.8 243.1L300.5 244.9L301.3 246.8L302.2 249.0L302.7 250.5L303.8 252.6L304.1 254.3L304.7 256.3L305.4 258.0L305.8 259.1L306.7 261.8L307.4 263.6L307.9 265.6L308.6 267.7L309.1 269.4L310.1 271.9L310.2 273.3L310.4 275.8L311.4 277.1L311.7 279.5L312.5 281.0L312.7 282.5L313.5 284.8L313.5 286.0L314.6 288.7L315.2 290.8L315.7 292.6L316.4 294.5L316.7 296.4L317.0 298.7L317.7 300.3L318.7 302.2L318.8 304.2L319.6 306.2L319.8 308.1L320.5 309.5L320.8 311.9L321.4 314.0L321.8 315.8L322.6 317.6L322.8 319.7L322.8 321.7L323.8 323.6L324.5 325.7L324.7 327.4L325.4 329.3L325.7 331.3L325.6 333.4L326.7 335.2L327.3 337.1L327.6 339.1L328.0 341.3L328.6 343.0L329.3 345.1L329.5 346.9L329.9 348.6L330.5 350.7L331.0 352.5L331.5 354.6L332.1 357.2L332.4 358.5L332.6 360.4L333.4 362.4L334.1 364.7L334.3 366.3L334.8 368.4L335.3 370.2L335.9 371.9L336.2 374.1L336.5 375.7L337.1 377.9L338.0 379.9L338.1 381.8L338.7 383.9L339.0 385.7L339.4 387.9L339.9 389.6L340.6 391.1L340.8 393.5L341.7 395.3L341.7 397.4L342.7 399.3L342.5 401.3L342.4 403.8L343.4 405.2L344.1 406.4L344.2 409.2L344.8 411.3L345.0 413.1L345.4 414.8L345.9 417.0L345.9 419.1L346.7 420.9L347.5 422.7L347.5 424.8L347.4 426.9L348.3 428.7L348.9 431.2L349.1 432.7L349.9 434.8L349.8 436.6L349.7 438.7L350.6 440.5L350.9 442.6L351.4 444.4L351.3 446.1L352.2 448.4L352.7 450.5L353.1 452.3L354.0 454.1L354.0 456.2L355.1 457.8L354.9 460.0L354.8 462.0L355.9 463.9L356.3 465.7L357.0 467.8L357.8 469.9L358.1 471.6L359.2 473.5L359.2 475.4L359.9 477.2L360.3 479.3L360.5 481.7L361.3 483.2L361.9 485.4L362.4 487.0L362.9 489.4L363.4 490.9L363.9 493.1L364.4 494.8L364.7 496.7L365.4 498.7L366.0 500.5L366.3 502.5L366.8 504.4L367.1 506.5L367.5 508.7L367.8 510.4L368.1 512.4L368.5 514.3L368.3 515.8L369.1 518.3L369.2 520.2L369.7 522.2L370.4 523.7L370.2 526.2L370.4 528.2L370.7 530.2L370.5 531.7L371.2 534.1L372.0 535.7L371.8 538.1L372.2 540.1L372.3 542.1L373.2 544.0L372.8 546.1L373.0 547.5L373.3 550.0L373.3 552.3L373.8 554.0L373.5 556.7L374.2 558.0L374.9 559.4L374.7 561.9L375.8 564.6L375.2 565.9L375.1 567.7L375.6 569.9L375.6 571.7L376.1 573.9L376.5 575.8L376.5 577.8L376.5 579.3L377.0 581.8L377.1 584.3L377.4 585.8L377.5 588.0L377.8 589.8L378.0 591.5L378.1 593.8L378.7 595.7L378.5 597.7L378.8 599.2L379.0 601.7L379.5 603.6L379.4 605.7L379.5 608.0L379.9 609.7L380.2 611.0L380.4 613.6L379.9 615.5L380.9 617.6L380.7 619.6L381.5 621.5L382.1 623.9L382.1 625.5L382.2 627.9L382.8 629.4L383.4 631.2L383.5 633.4L384.1 635.1L384.3 637.3L385.2 639.4L385.2 641.2L385.9 643.0L386.1 645.1L386.9 646.9L387.0 649.0L387.4 651.3L387.9 652.9L388.1 655.4L388.8 656.8L389.0 658.8L389.7 660.7L389.9 662.6L390.5 664.6L390.5 666.8L391.3 668.5L391.6 669.8L392.1 672.4L392.5 674.4L392.9 676.4L393.3 677.9L393.6 680.3L393.8 683.1L394.2 684.2L393.8 686.5L394.8 688.2L395.1 690.2L395.4 692.1L395.7 694.0L395.9 696.1L396.6 697.2L396.4 700.1L396.9 702.3L397.0 704.0L397.0 706.6L397.5 708.0L397.5 709.7L398.0 712.0L399.0 714.2L398.6 715.9L399.2 718.1L399.2 719.9L400.2 721.3L399.8 723.8L400.9 726.1L400.5 727.8L400.5 730.2L401.1 731.7L401.6 733.8L401.8 735.7L402.3 737.6L402.4 739.6L403.0 741.9L403.1 743.6L403.6 745.0L403.7 747.5L404.1 749.5L404.3 751.5L404.7 753.8L404.9 755.4L404.7 757.0L405.5 759.4L405.7 761.7L406.0 763.3L406.0 765.2L406.6 767.3L406.9 768.6L407.1 771.3L407.2 773.2L407.6 775.2L408.1 776.9L408.2 779.2L408.8 781.3L408.8 783.2L409.2 784.7L409.4 787.1L409.8 789.4L410.0 791.1L410.4 792.8L410.7 795.0L410.9 797.1L411.4 798.9L411.7 800.7L412.1 802.9L412.3 804.7L412.8 806.8L413.4 809.2L413.6 810.7L414.0 812.7L414.4 814.6L415.1 816.4L415.3 818.5L415.2 820.1L416.1 822.5L416.9 824.8L417.0 826.4L417.2 828.6L417.9 830.3L418.0 832.1L418.7 834.2L419.1 836.2L419.6 838.1L419.8 839.7L420.5 842.0L421.0 843.6L421.3 845.9L421.5 847.6L422.2 849.8L422.2 851.9L423.0 853.7L423.1 855.8L423.8 857.6L424.7 859.3L424.6 861.5L425.0 863.8L425.4 865.5L425.4 867.7L426.2 869.4L426.5 871.4L426.9 873.3L426.7 875.6L427.7 877.2L428.6 879.1L428.4 881.2L428.2 883.1L429.1 885.1L429.6 887.2L429.8 889.1L430.4 891.0L430.6 893.0L430.4 895.2L431.3 896.9L431.7 898.5L432.0 900.9L432.7 903.3L432.7 904.8L433.3 906.5L433.5 908.7L434.0 910.6L434.3 912.6L435.0 914.1L435.0 916.6L435.5 918.7L435.8 920.5L436.3 922.9L436.6 924.4L437.0 926.7L437.4 928.3L438.1 930.6L438.3 932.2L438.4 933.6L439.1 936.1L439.8 937.8L440.0 940.0L440.2 941.8L440.9 943.9L440.9 945.6L441.8 947.8L442.3 950.2L442.7 951.7L443.7 953.8L443.6 955.6L444.4 957.6L444.5 959.5L444.8 961.7L445.4 963.4L446.1 965.0L446.3 967.3L446.6 969.0L447.2 971.2L447.7 972.9L448.2 975.1L448.7 977.2L449.1 979.0L448.7 981.1L450.0 982.9L450.5 985.0L450.9 986.8L451.0 989.1L451.9 990.7L452.1 992.1L452.8 994.6L452.8 996.3L453.8 998.4L453.7 1000.4L454.8 1002.3L454.9 1003.8L455.8 1006.2L456.6 1007.9L456.8 1010.1L457.9 1012.3L457.8 1013.9L458.4 1016.2L458.9 1017.8L459.8 1020.1L460.0 1021.6L460.5 1023.6L461.1 1025.5L461.0 1027.3L462.3 1029.3L462.9 1031.6L463.4 1033.1L464.2 1034.9L464.6 1036.9L465.0 1039.0L465.8 1040.8L466.5 1043.1L467.0 1044.6L467.8 1046.4L468.2 1048.4L468.6 1050.1L469.5 1052.2L469.6 1054.1L470.8 1056.0L471.3 1058.1L472.0 1059.8L472.6 1061.8L473.3 1063.6L473.9 1065.5L474.7 1067.3L475.7 1069.4L476.0 1071.1L477.3 1072.4L477.4 1074.8L477.9 1076.4L478.8 1078.6L479.7 1080.5L480.2 1082.3L481.3 1083.9L481.7 1086.1L482.7 1087.4L483.2 1089.8L484.3 1091.2L484.7 1093.5L485.3 1095.0L486.3 1097.1L487.3 1098.9L487.9 1100.8L489.4 1102.3L489.5 1104.5L490.6 1106.4L491.1 1108.1L491.7 1110.5L492.7 1111.8L493.7 1113.6L494.3 1115.4L495.6 1117.7L495.9 1119.1L496.9 1121.0L497.5 1122.8L498.1 1124.2L499.1 1126.5L500.4 1128.2L500.6 1130.2L501.0 1131.7L502.2 1133.8L503.1 1136.0L503.7 1137.5L504.5 1139.0L505.3 1141.2L505.7 1143.5L506.9 1144.9L508.1 1146.9L508.5 1148.5L509.4 1149.6L510.1 1152.2L510.5 1154.3L511.8 1155.8L512.9 1158.1L513.5 1159.4L514.2 1160.9L515.3 1163.0L515.5 1165.1L517.1 1166.6L517.8 1167.7L518.9 1170.1L520.0 1172.0L520.8 1173.7L522.0 1174.9L522.8 1177.2L523.8 1179.1L524.7 1180.7L525.8 1181.8L526.8 1184.2L528.0 1184.9L528.9 1187.6L529.9 1189.4L531.0 1190.9L532.6 1193.4L533.3 1194.2L534.5 1195.6L535.6 1197.4L536.9 1199.3L538.0 1200.6L539.4 1202.2L540.5 1203.7L541.4 1205.1L543.0 1206.7L544.1 1208.5L545.6 1209.7L547.5 1211.8L548.3 1212.7L549.8 1213.7L551.1 1215.6L552.4 1217.2L553.8 1218.5L555.4 1220.0L556.7 1221.4L557.9 1222.3L559.5 1224.2L561.0 1226.2L562.4 1227.0L563.6 1229.1L565.3 1229.8L566.8 1230.9L568.1 1232.6L569.1 1234.6L571.1 1235.3L573.0 1236.7L574.0 1238.0L575.3 1239.3L577.0 1240.7L577.9 1242.5L580.0 1243.2L581.5 1244.6L583.1 1245.8L584.5 1247.1L586.2 1248.2L587.9 1249.9L589.4 1250.6L590.6 1252.2L592.7 1252.9L594.4 1254.3L595.9 1255.1L598.9 1255.7L599.3 1257.3L600.5 1257.9L602.6 1259.5L604.4 1261.0L606.0 1261.7L607.6 1262.4L609.4 1263.8L611.1 1265.0L612.8 1266.0L613.8 1266.7L616.1 1268.2L617.4 1269.2L619.5 1270.4L621.3 1271.1L622.8 1272.6L624.5 1274.3L626.1 1274.9L628.4 1275.7L629.4 1277.1L630.9 1278.2L632.8 1279.4L634.4 1280.5L636.1 1281.6L637.8 1282.7L639.5 1283.8L641.1 1284.8L642.8 1285.9L644.6 1286.9L646.3 1287.9L648.0 1288.9L649.7 1289.9L651.5 1290.9L653.2 1291.9L655.0 1292.8L656.8 1293.7L658.5 1294.6L660.3 1295.5L662.1 1296.4L663.9 1297.2L665.7 1298.1L667.5 1298.9L669.4 1299.7L671.2 1300.5L673.0 1301.3L674.9 1302.0L676.7 1302.8L678.6 1303.6L680.4 1304.3L682.3 1305.0L684.2 1305.8L686.0 1306.5L687.9 1307.2L689.8 1308.0L691.7 1308.7L693.5 1309.4L695.4 1310.1L697.3 1310.9L699.1 1311.6L701.0 1312.3L702.9 1313.0L704.8 1313.7L706.7 1314.3L708.5 1315.0L710.4 1315.7L712.3 1316.3L714.2 1317.0L716.1 1317.6L718.0 1318.2L719.9 1318.8L721.8 1319.3L723.8 1319.9L725.7 1320.4L727.6 1320.9L729.6 1321.4L731.5 1321.9L733.4 1322.3L735.4 1322.8L737.3 1323.2L739.3 1323.6L741.3 1323.9L743.2 1324.3L745.2 1324.6L747.2 1324.9L749.1 1325.2L751.1 1325.5L753.1 1325.8L755.1 1326.0L757.1 1326.3L759.1 1326.5L761.1 1326.7L763.1 1326.9L765.1 1327.1L767.0 1327.3L769.0 1327.5L771.0 1327.6L773.0 1327.8L775.0 1328.0L777.0 1328.1L779.0 1328.2L781.0 1328.3L783.0 1328.4L785.0 1328.5L787.0 1328.6L789.0 1328.7L791.0 1328.8L793.0 1328.9L795.0 1328.9L797.0 1329.0L799.0 1329.1L801.0 1329.1L803.0 1329.1L805.0 1329.1L807.0 1329.1L809.0 1329.1L811.0 1329.1L813.0 1329.1L815.0 1329.1L817.0 1329.0L819.0 1329.0L821.0 1328.9L823.0 1328.8L825.0 1328.8L827.0 1328.6L829.0 1328.5L831.0 1328.4L833.0 1328.2L835.0 1328.1L837.0 1327.9L839.0 1327.7L841.0 1327.5L842.9 1327.3L844.9 1327.1L846.9 1326.8L848.9 1326.5L850.9 1326.3L852.9 1326.0L854.8 1325.6L856.8 1325.3L858.8 1325.0L860.8 1324.6L862.8 1324.2L864.7 1323.8L866.7 1323.4L868.7 1323.0L870.6 1322.6L872.6 1322.1L874.5 1321.6L876.5 1321.1L878.4 1320.6L880.3 1320.1L882.2 1319.5L884.1 1318.9L886.0 1318.2L887.9 1317.5L889.7 1316.8L891.6 1316.1L893.4 1315.3L895.2 1314.5L897.0 1313.6L898.8 1312.7L900.5 1311.8L902.3 1310.9L904.0 1309.9L905.7 1308.9L907.4 1307.9L909.1 1306.9L910.8 1305.8L912.5 1304.7L914.1 1303.5L915.8 1302.4L917.4 1301.2L919.0 1300.0L920.6 1298.8L922.2 1297.6L923.8 1296.3L925.4 1295.1L926.9 1293.8L928.5 1292.5L930.0 1291.2L931.6 1289.9L933.1 1288.6L934.6 1287.3L936.1 1286.0L937.6 1284.6L939.1 1283.3L940.5 1281.9L942.0 1280.6L943.4 1279.2L944.8 1277.8L946.3 1276.4L947.7 1275.0L949.0 1273.6L950.4 1272.1L951.8 1270.7L953.1 1269.2L954.5 1267.7L955.8 1266.2L957.1 1264.7L958.5 1263.2L959.8 1261.7L961.1 1260.2L962.4 1258.7L963.7 1257.1L965.0 1255.6L966.3 1254.1L967.5 1252.5L968.8 1251.0L970.1 1249.5L971.4 1247.9L972.7 1246.4L974.0 1244.9L975.3 1243.4L976.6 1241.8L977.9 1240.3L979.2 1238.8L980.5 1237.3L981.9 1235.8L983.2 1234.3L984.5 1232.8L985.8 1231.2L987.1 1229.7L988.4 1228.2L989.7 1226.7L991.1 1225.2L992.4 1223.7L993.7 1222.2L995.0 1220.7L996.3 1219.2L997.7 1217.7L999.0 1216.2L1000.3 1214.7L1001.6 1213.2L1003.0 1211.7L1004.3 1210.2L1005.6 1208.7L1006.9 1207.2L1008.3 1205.7L1009.6 1204.3L1010.9 1202.8L1012.3 1201.3L1013.6 1199.8L1014.9 1198.3L1016.3 1196.8L1017.6 1195.3L1018.9 1193.8L1020.2 1192.3L1021.6 1190.8L1022.9 1189.3L1024.2 1187.8L1025.6 1186.3L1026.9 1184.8L1028.2 1183.3L1029.6 1181.9L1030.9 1180.4L1032.2 1178.9L1033.5 1177.4L1034.9 1175.9L1036.2 1174.4L1037.5 1172.9L1038.8 1171.3L1040.1 1169.8L1041.5 1168.3L1042.8 1166.8L1044.1 1165.3L1045.4 1163.8L1046.7 1162.3L1048.0 1160.8L1049.4 1159.3L1050.7 1157.8L1052.0 1156.3L1053.3 1154.8L1054.7 1153.3L1056.0 1151.8L1057.3 1150.3L1058.7 1148.8L1060.0 1147.3L1061.4 1145.9L1062.8 1144.4L1064.1 1143.0L1065.5 1141.5L1066.9 1140.1L1068.3 1138.7L1069.7 1137.3L1071.1 1135.9L1072.6 1134.5L1074.0 1133.1L1075.5 1131.7L1076.9 1130.4L1078.4 1129.0L1079.9 1127.6L1081.4 1126.2L1082.9 1124.8L1084.4 1123.4L1085.9 1122.0L1087.4 1120.7L1089.0 1119.4L1090.5 1118.0L1092.1 1116.7L1093.7 1115.5L1095.3 1114.2L1096.9 1113.0L1098.6 1111.8L1100.3 1110.7L1102.0 1109.7L1103.7 1108.6L1105.4 1107.7L1107.2 1106.8L1109.0 1105.9L1110.8 1105.2L1112.6 1104.5L1114.4 1103.9L1116.3 1103.4L1118.1 1103.0L1120.0 1102.7L1121.9 1102.5L1123.8 1102.5L1125.7 1102.5L1127.6 1102.6L1129.5 1102.8L1131.4 1103.1L1133.3 1103.5L1135.2 1104.0L1137.2 1104.5L1139.1 1105.1L1141.1 1105.7L1143.0 1106.4L1145.0 1107.0L1146.9 1107.7L1148.9 1108.3L1150.8 1109.0L1152.8 1109.6L1154.7 1110.1L1156.7 1110.6L1158.6 1111.1L1160.5 1111.4L1162.4 1111.8L1164.3 1112.0L1166.2 1112.1L1168.1 1112.2L1170.0 1112.1L1171.8 1111.9L1173.7 1111.6L1175.5 1111.3L1177.3 1110.8L1179.1 1110.2L1180.8 1109.5L1182.6 1108.8L1184.3 1107.9L1186.1 1106.9L1187.8 1105.9L1189.4 1104.8L1191.1 1103.6L1192.7 1102.4L1194.3 1101.1L1195.9 1099.7L1197.4 1098.4L1198.9 1097.0L1200.3 1095.6L1201.8 1094.1L1203.1 1092.6L1204.5 1091.1L1205.8 1089.6L1207.1 1088.0L1208.3 1086.4L1209.5 1084.8L1210.7 1083.2L1211.8 1081.5L1213.0 1079.9L1214.1 1078.2L1215.2 1076.6L1216.2 1074.9L1217.3 1073.2L1218.3 1071.5L1219.3 1069.7L1220.3 1068.0L1221.3 1066.3L1222.3 1064.5L1223.2 1062.8L1224.2 1061.0L1225.1 1059.3L1226.0 1057.5L1227.0 1055.7L1227.9 1053.9L1228.8 1052.1L1229.7 1050.3L1230.6 1048.6L1231.5 1046.8L1232.4 1045.0L1233.3 1043.2L1234.2 1041.4L1235.1 1039.6L1236.0 1037.8L1236.9 1036.0L1237.8 1034.2L1238.7 1032.5L1239.6 1030.7L1240.5 1028.9L1241.4 1027.1L1242.3 1025.3L1243.2 1023.5L1244.1 1021.7L1244.9 1019.9L1245.8 1018.1L1246.6 1016.3L1247.4 1014.5L1248.2 1012.6L1249.0 1010.8L1249.8 1009.0L1250.6 1007.1L1251.4 1005.3L1252.1 1003.4L1252.9 1001.5L1253.7 999.7L1254.5 997.8L1255.3 996.0L1256.0 994.1L1256.8 992.3L1257.7 990.4L1258.5 988.6L1259.4 986.7L1260.2 984.8L1261.1 982.9L1262.1 981.0L1263.1 979.2L1264.1 977.4L1265.1 975.6L1266.3 973.9L1267.4 972.2L1268.7 970.5L1269.9 969.0L1271.3 967.5L1272.6 966.0L1274.1 964.7L1275.6 963.5L1277.1 962.4L1278.6 961.4L1280.2 960.5L1281.9 959.8L1283.5 959.2L1285.2 958.7L1287.0 958.3L1288.7 958.1L1290.4 958.0L1292.2 958.1L1294.0 958.2L1295.7 958.5L1297.5 959.0L1299.3 959.5L1301.1 960.2L1302.8 960.9L1304.6 961.8L1306.3 962.7L1308.1 963.8L1309.8 964.8L1311.5 966.0L1313.2 967.2L1314.9 968.5L1316.5 969.8L1318.2 971.1L1319.8 972.4L1321.5 973.7L1323.1 975.0L1324.8 976.2L1326.4 977.4L1328.1 978.6L1329.7 979.8L1331.4 980.8L1333.1 981.9L1334.9 982.9L1336.6 983.8L1338.4 984.6L1340.2 985.4L1342.0 986.1L1343.9 986.7L1345.7 987.3L1347.6 987.9L1349.5 988.4L1351.4 988.8L1353.3 989.2L1355.3 989.5L1357.2 989.8L1359.2 990.0L1361.2 990.2L1363.1 990.4L1365.1 990.5L1367.1 990.5L1369.1 990.5L1371.2 990.5L1373.2 990.5L1375.2 990.4L1377.2 990.3L1379.3 990.2L1381.3 990.2L1383.3 990.1L1385.4 990.1L1387.4 990.1L1389.4 990.1L1391.4 990.1L1393.4 990.2L1395.3 990.4L1397.3 990.6L1399.3 990.8L1401.2 991.1L1403.2 991.5L1405.1 991.9L1407.1 992.4L1409.0 992.9L1410.9 993.5L1412.8 994.1L1414.6 994.8L1416.5 995.5L1418.3 996.2L1420.1 997.1L1421.9 998.0L1423.6 998.9L1425.3 999.9L1427.0 1001.0L1428.6 1002.1L1430.2 1003.2L1431.8 1004.4L1433.4 1005.7L1434.9 1007.0L1436.4 1008.4L1437.8 1009.7L1439.2 1011.2L1440.6 1012.6L1442.0 1014.1L1443.3 1015.6L1444.6 1017.1L1445.9 1018.6L1447.1 1020.2L1448.3 1021.8L1449.5 1023.4L1450.7 1025.0L1451.8 1026.6L1452.9 1028.3L1454.0 1030.0L1455.0 1031.7L1456.1 1033.4L1457.1 1035.2L1458.1 1036.9L1459.0 1038.7L1460.0 1040.4L1461.0 1042.2L1461.9 1044.0L1462.9 1045.8L1463.8 1047.6L1464.7 1049.4L1465.6 1051.2L1466.5 1053.0L1467.4 1054.8L1468.3 1056.6L1469.2 1058.4L1470.0 1060.2L1470.9 1062.0L1471.7 1063.8L1472.6 1065.6L1473.4 1067.4L1474.2 1069.2L1475.0 1071.1L1475.8 1072.9L1476.6 1074.7L1477.4 1076.6L1478.2 1078.4L1478.9 1080.3L1479.7 1082.1L1480.4 1084.0L1481.2 1085.8L1481.9 1087.7L1482.7 1089.5L1483.4 1091.4L1484.1 1093.3L1484.9 1095.1L1485.6 1097.0L1486.3 1098.9L1487.1 1100.7L1487.8 1102.6L1488.5 1104.4L1489.2 1106.3L1490.0 1108.2L1490.7 1110.0L1491.4 1111.9L1492.1 1113.8L1492.9 1115.6L1493.6 1117.5L1494.3 1119.4L1495.0 1121.2L1495.8 1123.1L1496.5 1124.9L1497.2 1126.8L1497.9 1128.7L1498.7 1130.5L1499.4 1132.4L1500.1 1134.3L1500.9 1136.1L1501.6 1138.0L1502.4 1139.8L1503.1 1141.7L1503.9 1143.5L1504.6 1145.4L1505.4 1147.2L1506.2 1149.1L1506.9 1150.9L1507.7 1152.8L1508.5 1154.6L1509.3 1156.4L1510.1 1158.3L1510.9 1160.1L1511.7 1162.0L1512.5 1163.8L1513.2 1165.6L1514.1 1167.5L1514.9 1169.3L1515.7 1171.1L1516.5 1172.9L1517.3 1174.8L1518.1 1176.6L1518.9 1178.4L1519.7 1180.3L1520.5 1182.1L1521.3 1183.9L1522.1 1185.7L1523.0 1187.6L1523.8 1189.4L1524.6 1191.2L1525.4 1193.1L1526.2 1194.9L1527.0 1196.7L1527.8 1198.6L1528.6 1200.4L1529.4 1202.2L1530.2 1204.1L1530.9 1205.9L1531.7 1207.7L1532.5 1209.6L1533.3 1211.4L1534.1 1213.2L1534.9 1215.1L1535.8 1216.9L1536.6 1218.7L1537.4 1220.5L1538.2 1222.4L1539.0 1224.2L1539.9 1226.0L1540.7 1227.8L1541.5 1229.6L1542.4 1231.5L1543.2 1233.3L1544.1 1235.1L1544.9 1236.9L1545.8 1238.7L1546.6 1240.5L1547.5 1242.3L1548.3 1244.1L1549.2 1245.9L1550.1 1247.7L1550.9 1249.5L1551.8 1251.3L1552.7 1253.1L1553.5 1254.9L1554.4 1256.7L1555.3 1258.5L1556.2 1260.3L1557.1 1262.1L1558.0 1263.9L1558.9 1265.7L1559.8 1267.5L1560.7 1269.3L1561.6 1271.0L1562.5 1272.8L1563.4 1274.6L1564.3 1276.4L1565.2 1278.2L1566.1 1280.0L1567.0 1281.7L1568.0 1283.5L1568.9 1285.3L1569.8 1287.1L1570.7 1288.9L1571.6 1290.6L1572.6 1292.4L1573.5 1294.2L1574.4 1296.0L1575.4 1297.7L1576.3 1299.5L1577.3 1301.3L1578.2 1303.0L1579.2 1304.8L1580.2 1306.5L1581.2 1308.2L1582.2 1310.0L1583.2 1311.7L1584.3 1313.4L1585.3 1315.1L1586.4 1316.8L1587.5 1318.5L1588.6 1320.1L1589.7 1321.8L1590.9 1323.4L1592.0 1325.0L1593.2 1326.6L1594.5 1328.2L1595.7 1329.8L1597.0 1331.3L1598.2 1332.8L1599.5 1334.3L1600.9 1335.8L1602.2 1337.3L1603.6 1338.7L1605.0 1340.2L1606.4 1341.6L1607.9 1343.0L1609.3 1344.3L1610.8 1345.7L1612.3 1347.0L1613.8 1348.3L1615.4 1349.6L1616.9 1350.9L1618.5 1352.1L1620.1 1353.4L1621.7 1354.6L1623.3 1355.7L1624.9 1356.9L1626.6 1358.0L1628.2 1359.1L1629.9 1360.2L1631.6 1361.3L1633.3 1362.3L1635.1 1363.3L1636.8 1364.3L1638.6 1365.2L1640.3 1366.2L1642.1 1367.1L1643.9 1367.9L1645.7 1368.8L1647.5 1369.6L1649.4 1370.4L1651.2 1371.2L1653.1 1371.9L1654.9 1372.6L1656.8 1373.3L1658.7 1374.0L1660.6 1374.6L1662.5 1375.3L1664.4 1375.8L1666.3 1376.4L1668.3 1376.9L1670.2 1377.5L1672.1 1378.0L1674.1 1378.4L1676.0 1378.9L1678.0 1379.3L1679.9 1379.7L1681.9 1380.1L1683.9 1380.4L1685.9 1380.8L1687.8 1381.1L1689.8 1381.4L1691.8 1381.7L1693.8 1382.0L1695.7 1382.2L1697.7 1382.4L1699.7 1382.7L1701.7 1382.9L1703.7 1383.1L1705.7 1383.2L1707.7 1383.4L1709.7 1383.5L1711.7 1383.7L1713.7 1383.8L1715.7 1383.9L1717.7 1384.0L1719.7 1384.1L1721.7 1384.2L1723.7 1384.3L1725.7 1384.4L1727.7 1384.5L1729.7 1384.5L1731.7 1384.6L1733.7 1384.6L1735.7 1384.7L1737.7 1384.7L1739.7 1384.8L1741.7 1384.8L1743.7 1384.8L1745.7 1384.8L1747.7 1384.8L1749.7 1384.8L1751.7 1384.8L1753.7 1384.8L1755.7 1384.8L1757.7 1384.8L1759.7 1384.7L1761.7 1384.7L1763.7 1384.6L1765.7 1384.6L1767.7 1384.5L1769.7 1384.4L1771.7 1384.4L1773.7 1384.3L1775.7 1384.2L1777.7 1384.1L1779.7 1384.0L1781.7 1383.9L1783.7 1383.9L1785.7 1383.8L1787.7 1383.7L1789.7 1383.6L1791.7 1383.5L1793.6 1383.4L1795.6 1383.3L1797.6 1383.2L1799.6 1383.1L1801.6 1382.9L1803.6 1382.8L1805.6 1382.7L1807.6 1382.6L1809.6 1382.5L1811.6 1382.4L1813.6 1382.3L1815.6 1382.2L1817.6 1382.1L1819.6 1382.0L1821.6 1381.9L1823.6 1381.8L1825.6 1381.7L1827.6 1381.5L1829.6 1381.4L1831.6 1381.3L1833.6 1381.2L1835.6 1381.1L1837.6 1380.9L1839.6 1380.8L1841.6 1380.7L1843.6 1380.6L1845.6 1380.4L1847.5 1380.3L1849.5 1380.2L1851.5 1380.0L1853.5 1379.9L1855.5 1379.8L1857.5 1379.6L1859.4 1379.5L1861.4 1379.3L1862.4 1379.2L1874.4 1378.4" stroke="#0066e0"/>
<path d="M205.0 1502.6L221.2 1502.2L300.0 1501.2L400.0 1499.9L513.0 1499.2L1040.0 1499.2L1861.0 1499.4L1875.0 1499.4" stroke="#00a864"/>
</g>
<g font-family="'Liberation Sans', Arial, Helvetica, sans-serif" font-size="73" text-anchor="middle" fill="#000">
<text x="221.2" y="1586.3">200</text>
<text x="494.5" y="1586.3">300</text>
<text x="767.8" y="1586.3">400</text>
<text x="1041.0" y="1586.3">500</text>
<text x="1314.3" y="1586.3">600</text>
<text x="1587.6" y="1586.3">700</text>
<text x="1860.9" y="1586.3">800</text>
</g>
<text x="1041.5" y="1725.3" font-family="'Liberation Sans', Arial, Helvetica, sans-serif" font-size="93.5" font-weight="bold" text-anchor="middle" fill="#000">Wavelength (nm)</text>
<text transform="translate(95 746) rotate(-90)" font-family="'Liberation Sans', Arial, Helvetica, sans-serif" font-size="93.5" font-weight="bold" text-anchor="middle" fill="#000">F(R<tspan font-family="DejaVu Sans, sans-serif" font-size="56" font-weight="normal" stroke="#000" stroke-width="0.9" dy="20">∞</tspan><tspan dy="-20">)</tspan> (a.u.)</text>
<text y="522.9" font-family="'Liberation Sans', Arial, Helvetica, sans-serif" font-size="66.5" font-style="italic" fill="#4d4d4d"><tspan x="628">impCo-SiO</tspan><tspan font-size="46" dy="18">2</tspan></text>
<text y="1049.3" font-family="'Liberation Sans', Arial, Helvetica, sans-serif" font-size="66.5" font-style="italic" fill="#ff4040"><tspan x="630.5">1</tspan><tspan x="666">Co-SiO</tspan><tspan font-size="46" dy="18">2</tspan></text>
<text y="1242.7" font-family="'Liberation Sans', Arial, Helvetica, sans-serif" font-size="66.5" font-style="italic" fill="#0066e0"><tspan x="630.5">1</tspan><tspan x="665.3">0</tspan><tspan x="705.2">Co-SiO</tspan><tspan font-size="46" dy="18">2</tspan></text>
<text y="1432.4" font-family="'Liberation Sans', Arial, Helvetica, sans-serif" font-size="66.5" font-style="italic" fill="#00a864"><tspan x="629">SiO</tspan><tspan font-size="46" dy="18">2</tspan></text>
<text x="1681.8" y="1145.3" font-family="IPAGothic, 'Noto Sans CJK SC', sans-serif" font-size="70.5" fill="#ff4040">×</text>
<text x="1743.5" y="1141.5" font-family="'Liberation Sans', Arial, Helvetica, sans-serif" font-size="62" font-weight="bold" fill="#ff4040">3</text>
</svg>
</body></html>
